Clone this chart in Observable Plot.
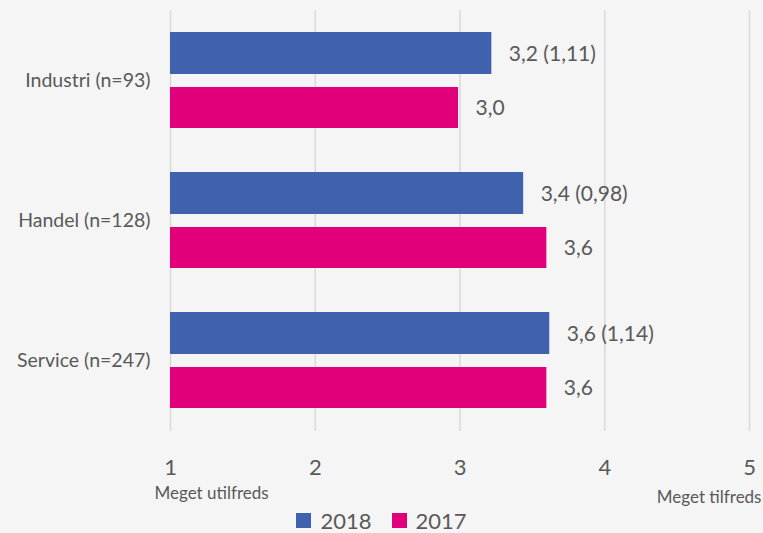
<!DOCTYPE html>
<html><head><meta charset="utf-8">
<script src="https://cdn.jsdelivr.net/npm/d3@7"></script>
<script src="https://cdn.jsdelivr.net/npm/@observablehq/plot@0.6"></script>
<style>
body{margin:0;background:#f5f5f5;font-family:Lato,sans-serif;}
#chart{width:763px;height:533px;background:#f5f5f5;overflow:hidden;}
#chart svg{display:block;}
.legend{display:flex;justify-content:center;align-items:center;height:25px;line-height:1;color:#595959;font-size:22px;font-family:Lato,sans-serif;}
.item{display:flex;align-items:center;margin:0 10px;line-height:1;}
.sw{width:15px;height:15px;display:inline-block;margin-right:9px;}
</style></head><body><div id="chart"></div><script>
const categories = ["Industri (n=93)", "Handel (n=128)", "Service (n=247)"];
const years = ["2018", "2017"];
const values2018 = [3.22, 3.44, 3.62];
const sd2018 = [1.11, 0.98, 1.14];
const values2017 = [2.99, 3.60, 3.60];
const xTicks = [1, 2, 3, 4, 5];
const scaleLabels = ["Meget utilfreds", "Meget tilfreds"];
const colors = ["#4062ae", "#e2007a"];
const textColor = "#595959";

const fmt1 = v => v.toFixed(1).replace(".", ",");
const fmt2 = v => v.toFixed(2).replace(".", ",");

const d18 = categories.map((c, i) => ({category: c, year: years[0], value: values2018[i], label: `${fmt1(values2018[i])} (${fmt2(sd2018[i])})`}));
const d17 = categories.map((c, i) => ({category: c, year: years[1], value: values2017[i], label: fmt1(values2017[i])}));

const plot = Plot.plot({
  width: 763, height: 508,
  marginTop: 10, marginBottom: 77, marginLeft: 170, marginRight: 14,
  style: {background: "transparent", fontFamily: "Lato, sans-serif", color: textColor},
  x: {domain: [1, 5], label: null},
  y: {domain: categories, paddingInner: 0.312, paddingOuter: 0.149, label: null},
  marks: [
    Plot.ruleX(xTicks, {stroke: "#d9d9d9", strokeWidth: 1.5}),
    Plot.barX(d18, {x1: () => 1, x2: "value", y: "category", fill: colors[0], insetBottom: 54}),
    Plot.barX(d17, {x1: () => 1, x2: "value", y: "category", fill: colors[1], insetTop: 55}),
    Plot.text(d18, {x: "value", y: "category", text: "label", dx: 17, dy: -26, textAnchor: "start", fontSize: 21, fill: textColor}),
    Plot.text(d17, {x: "value", y: "category", text: "label", dx: 17, dy: 28, textAnchor: "start", fontSize: 21, fill: textColor}),
    Plot.axisX(xTicks, {tickSize: 0, tickPadding: 28, fontSize: 22, tickFormat: d => String(d), fill: textColor}),
    Plot.axisY({tickSize: 0, tickPadding: 20, fontSize: 19.5, fill: textColor}),
    Plot.text([scaleLabels[0]], {x: () => 1, text: d => d, frameAnchor: "bottom", lineAnchor: "top", textAnchor: "start", dx: -16, dy: 55, fontSize: 17, fill: textColor}),
    Plot.text([scaleLabels[1]], {x: () => 5, text: d => d, frameAnchor: "bottom", lineAnchor: "top", textAnchor: "end", dx: 12, dy: 59, fontSize: 17, fill: textColor})
  ]
});

const chart = document.getElementById("chart");
chart.appendChild(plot);
const legend = document.createElement("div");
legend.className = "legend";
years.forEach((y, i) => {
  const item = document.createElement("span");
  item.className = "item";
  const sw = document.createElement("span");
  sw.className = "sw";
  sw.style.background = colors[i];
  item.appendChild(sw);
  item.appendChild(document.createTextNode(y));
  legend.appendChild(item);
});
chart.appendChild(legend);
</script></body></html>
